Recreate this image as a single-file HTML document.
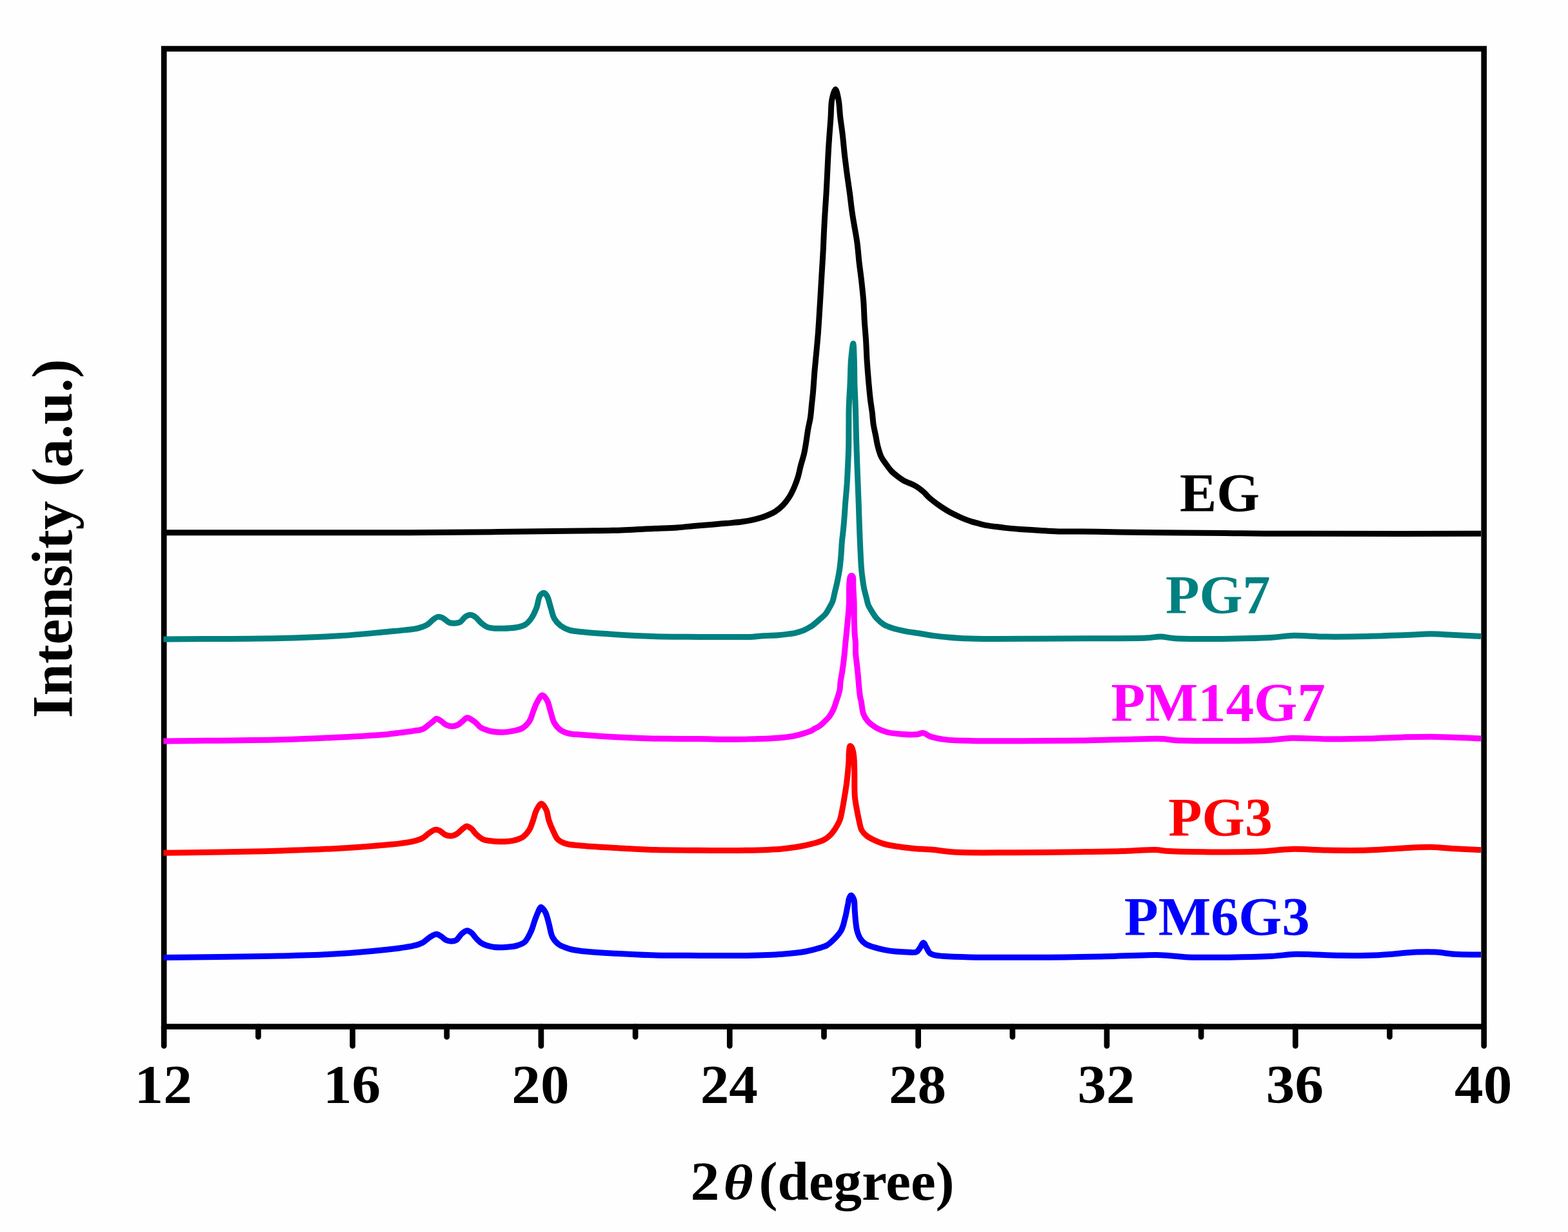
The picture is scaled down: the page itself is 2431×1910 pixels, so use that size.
<!DOCTYPE html>
<html><head><meta charset="utf-8"><style>html,body{margin:0;padding:0;background:#fefefe;overflow:hidden}svg{display:block}</style></head>
<body><svg width="2431" height="1910" viewBox="0 0 2431 1910"><rect x="0" y="0" width="2431" height="1910" fill="#fefefe"/>
<rect x="254.2" y="75.6" width="2046.4999999999998" height="1516.0" fill="none" stroke="#000" stroke-width="8.7"/>
<path d="M253.5,825.8 C335.7,825.8 422.1,825.9 500.0,825.8 C570.1,825.7 633.3,825.8 700.0,825.3 C766.7,824.8 855.6,823.6 900.0,823.0 C922.2,822.7 932.3,822.8 950.0,822.3 C970.0,821.7 995.7,820.3 1014.0,819.5 C1027.7,818.9 1039.1,818.7 1050.0,817.9 C1059.2,817.2 1066.9,816.2 1075.3,815.4 C1083.7,814.7 1092.2,814.1 1100.6,813.4 C1109.0,812.7 1117.5,812.1 1125.9,811.3 C1134.3,810.5 1143.3,810.0 1151.2,808.8 C1158.4,807.7 1165.3,806.4 1171.5,804.8 C1176.9,803.4 1181.6,802.1 1186.6,800.2 C1191.7,798.2 1197.2,796.0 1201.8,793.1 C1206.3,790.3 1210.3,786.8 1214.0,783.0 C1217.8,779.1 1221.2,774.4 1224.1,769.8 C1226.9,765.3 1229.2,760.4 1231.3,755.5 C1233.4,750.6 1235.3,745.8 1236.9,740.4 C1238.7,734.5 1239.9,727.9 1241.5,721.7 C1243.1,715.5 1245.3,709.3 1246.7,703.0 C1248.1,696.8 1249.0,690.5 1250.0,684.3 C1251.0,678.0 1251.7,671.7 1252.8,665.5 C1253.9,659.2 1255.6,653.1 1256.5,646.8 C1257.4,640.6 1257.8,634.3 1258.4,628.1 C1259.1,621.9 1259.7,616.6 1260.4,609.4 C1261.3,599.6 1262.1,585.8 1263.0,574.7 C1263.9,564.5 1264.9,555.2 1265.8,545.4 C1266.7,535.7 1267.6,525.9 1268.4,516.2 C1269.1,506.5 1269.7,496.7 1270.3,487.0 C1270.9,477.2 1271.5,467.5 1272.1,457.7 C1272.7,448.0 1273.2,438.2 1273.8,428.5 C1274.4,418.7 1275.1,407.9 1275.6,399.2 C1276.0,392.1 1276.3,386.6 1276.6,380.0 C1276.9,373.1 1277.1,366.5 1277.5,358.9 C1277.9,350.0 1278.5,339.4 1279.1,329.7 C1279.7,319.9 1280.4,310.2 1281.0,300.4 C1281.6,290.7 1282.0,280.9 1282.5,271.2 C1283.0,261.5 1283.4,251.7 1283.9,242.0 C1284.4,232.2 1285.0,222.5 1285.7,212.7 C1286.4,203.0 1287.2,193.2 1287.9,183.5 C1288.6,173.7 1288.2,162.4 1289.9,154.2 C1291.1,148.1 1293.6,138.5 1295.3,138.5 C1297.0,138.5 1298.9,148.9 1300.1,155.1 C1301.6,162.8 1301.7,172.7 1302.7,181.5 C1303.7,190.3 1305.1,198.5 1306.2,207.9 C1307.5,218.8 1308.5,231.9 1309.8,243.0 C1311.0,253.1 1312.2,262.4 1313.5,272.0 C1314.8,281.4 1316.2,290.5 1317.5,300.0 C1318.8,309.9 1319.9,321.0 1321.3,330.4 C1322.5,338.6 1323.8,345.7 1325.1,353.3 C1326.4,360.9 1327.8,367.9 1328.9,376.1 C1330.2,385.5 1330.9,396.4 1332.0,406.5 C1333.2,416.7 1334.7,426.8 1335.8,437.0 C1336.9,447.1 1338.0,457.3 1338.8,467.4 C1339.5,477.5 1339.7,487.7 1340.3,497.8 C1340.9,508.0 1342.0,518.1 1342.6,528.3 C1343.2,538.4 1343.5,548.5 1344.1,558.7 C1344.8,569.1 1345.6,579.7 1346.5,590.0 C1347.4,600.0 1348.3,610.7 1349.4,619.6 C1350.3,627.0 1351.5,633.4 1352.3,640.0 C1353.0,646.1 1353.2,651.8 1354.1,657.6 C1355.0,663.5 1356.4,669.3 1357.6,675.1 C1358.8,681.0 1359.6,687.0 1361.1,692.7 C1362.6,698.2 1364.1,703.9 1366.4,708.5 C1368.4,712.5 1370.9,715.5 1373.4,719.1 C1376.1,722.9 1378.9,727.1 1382.2,730.5 C1385.4,733.8 1389.1,736.6 1392.7,739.3 C1396.2,741.9 1399.8,744.5 1403.3,746.3 C1406.3,747.9 1409.2,748.5 1412.1,749.8 C1415.0,751.1 1417.8,752.3 1420.8,754.2 C1424.5,756.5 1428.9,760.0 1432.3,763.0 C1435.2,765.6 1437.1,768.4 1440.0,771.0 C1443.3,774.0 1447.3,777.1 1451.0,779.9 C1454.6,782.6 1458.4,785.2 1462.1,787.6 C1465.7,789.9 1469.4,792.2 1473.1,794.2 C1476.8,796.2 1480.5,797.9 1484.2,799.7 C1487.9,801.4 1491.5,803.2 1495.2,804.7 C1498.8,806.2 1502.5,807.4 1506.2,808.6 C1509.9,809.7 1513.6,810.6 1517.3,811.6 C1521.0,812.6 1524.6,813.7 1528.3,814.4 C1532.1,815.2 1535.7,815.5 1540.0,816.1 C1545.4,816.8 1551.9,817.7 1558.4,818.4 C1565.6,819.2 1573.1,819.8 1581.4,820.4 C1591.2,821.1 1603.3,821.8 1613.6,822.4 C1623.2,823.0 1631.3,823.6 1641.2,823.9 C1652.6,824.2 1665.0,824.0 1678.0,824.1 C1692.5,824.2 1709.9,824.5 1724.0,824.7 C1736.1,824.9 1742.5,825.1 1757.6,825.3 C1788.6,825.7 1862.6,826.0 1900.0,826.4 C1924.3,826.7 1931.9,827.1 1960.0,827.3 C2026.5,827.8 2184.0,827.3 2296.0,827.3" fill="none" stroke="#000000" stroke-width="9" stroke-linejoin="round" stroke-linecap="butt"/>
<path d="M253.4,990.9 C313.6,990.4 383.9,990.6 434.0,989.4 C469.8,988.6 497.0,987.6 526.0,985.8 C552.0,984.2 581.3,981.1 600.0,979.4 C611.4,978.4 619.1,977.9 627.6,976.9 C635.0,976.0 642.2,975.5 648.3,973.9 C653.4,972.6 658.1,971.1 662.1,968.7 C665.8,966.5 668.7,962.6 671.8,960.4 C674.2,958.7 676.3,956.8 678.7,956.4 C680.9,956.0 683.2,956.6 685.6,957.6 C689.0,959.0 693.0,963.8 696.6,965.2 C699.4,966.3 702.1,966.3 704.9,966.2 C707.7,966.1 710.6,965.9 713.2,964.5 C716.2,962.9 718.5,958.1 721.4,956.2 C723.8,954.6 726.5,953.2 729.0,953.2 C731.5,953.2 734.1,954.5 736.6,956.2 C739.9,958.3 742.8,963.1 746.3,965.9 C749.7,968.6 752.8,971.3 757.3,972.8 C763.2,974.7 772.2,974.2 779.4,974.2 C786.4,974.2 794.0,973.9 800.1,972.8 C805.2,971.9 810.0,971.1 813.9,968.7 C817.7,966.4 820.7,962.9 823.5,959.0 C826.8,954.4 829.5,948.3 831.8,942.4 C834.2,936.3 834.5,926.9 837.3,923.1 C839.0,920.8 841.7,918.9 843.6,919.2 C845.4,919.5 847.0,922.0 848.4,924.5 C850.7,928.5 852.1,936.6 854.0,942.4 C855.8,948.0 856.7,954.3 859.4,959.0 C861.9,963.3 865.2,967.0 869.1,970.0 C873.1,973.0 877.9,975.3 882.9,976.9 C888.2,978.6 892.7,978.7 900.0,979.5 C913.1,981.0 936.8,982.5 955.2,983.7 C973.6,984.9 990.7,985.9 1010.4,986.5 C1033.2,987.2 1061.1,987.2 1084.0,987.4 C1103.9,987.5 1125.6,987.5 1140.0,987.5 C1149.0,987.5 1154.7,987.8 1162.0,987.5 C1169.4,987.2 1176.8,986.2 1184.2,985.7 C1191.5,985.2 1199.4,985.2 1206.2,984.7 C1212.1,984.2 1217.8,983.6 1222.8,982.9 C1226.9,982.3 1230.2,982.0 1233.8,981.1 C1237.5,980.2 1241.3,979.2 1244.9,977.7 C1248.6,976.2 1253.4,973.4 1255.9,972.0 C1257.2,971.3 1257.6,971.2 1258.9,970.3 C1261.5,968.5 1266.5,964.1 1270.1,960.9 C1273.6,957.8 1277.5,954.8 1280.2,951.5 C1282.6,948.6 1284.0,945.3 1285.8,942.2 C1287.5,939.1 1289.4,936.3 1290.7,932.8 C1292.3,928.7 1293.0,923.4 1294.1,918.7 C1295.2,914.0 1296.4,909.9 1297.5,904.7 C1298.9,898.3 1300.5,890.2 1301.6,883.1 C1302.6,876.2 1303.2,869.6 1303.8,862.5 C1304.5,855.0 1304.7,846.5 1305.4,839.3 C1306.0,832.9 1306.8,827.5 1307.4,821.2 C1308.1,814.3 1308.8,806.4 1309.3,799.3 C1309.8,792.7 1310.1,787.1 1310.6,780.0 C1311.3,771.2 1312.4,760.1 1313.1,750.4 C1313.7,741.0 1314.1,732.0 1314.5,722.8 C1314.9,713.6 1315.4,705.0 1315.6,695.2 C1315.9,684.2 1315.8,671.0 1315.9,660.0 C1316.0,650.3 1315.8,642.4 1316.1,632.5 C1316.4,621.0 1317.4,607.5 1318.0,595.0 C1318.6,582.5 1318.5,568.7 1319.5,557.5 C1320.3,548.3 1322.0,532.5 1322.8,532.5 C1323.6,532.5 1324.0,548.3 1324.3,557.5 C1324.7,568.7 1324.6,582.5 1324.9,595.0 C1325.3,607.5 1326.0,619.2 1326.4,632.5 C1326.9,647.7 1327.1,665.8 1327.6,681.4 C1328.0,695.8 1328.5,707.9 1329.0,722.8 C1329.6,740.3 1330.6,762.8 1331.2,780.0 C1331.7,794.2 1331.9,804.3 1332.5,818.7 C1333.2,836.8 1334.3,866.2 1335.4,880.0 C1335.9,887.0 1336.4,890.5 1337.1,895.8 C1337.8,901.1 1338.5,906.4 1339.5,911.6 C1340.6,916.9 1342.2,922.7 1343.4,927.4 C1344.4,931.3 1344.8,934.6 1346.2,938.0 C1347.7,941.6 1349.9,945.1 1352.1,948.5 C1354.3,952.1 1356.5,955.8 1359.5,959.0 C1362.6,962.4 1366.3,965.8 1370.5,968.3 C1374.9,970.9 1380.0,972.5 1385.2,974.2 C1390.9,976.0 1397.2,977.3 1403.6,978.6 C1410.6,980.0 1418.3,980.8 1425.7,982.0 C1433.0,983.2 1440.3,984.6 1447.7,985.6 C1455.0,986.6 1462.6,987.4 1469.8,988.1 C1476.7,988.7 1483.1,989.2 1490.0,989.6 C1497.3,990.0 1502.5,990.1 1512.5,990.3 C1532.2,990.6 1571.4,990.4 1600.8,990.3 C1630.2,990.2 1659.7,989.9 1689.1,989.7 C1718.5,989.5 1757.8,990.0 1777.4,989.0 C1787.2,988.5 1792.1,986.9 1799.5,987.0 C1806.9,987.1 1810.9,989.1 1821.6,989.7 C1849.1,991.3 1938.3,990.3 1969.7,988.6 C1984.4,987.8 1989.9,985.8 2002.1,985.4 C2017.8,984.9 2037.4,986.9 2056.2,987.1 C2076.8,987.3 2099.4,987.0 2121.0,986.5 C2142.6,986.0 2168.0,985.0 2185.9,984.3 C2198.6,983.8 2207.5,982.8 2218.3,982.8 C2229.1,982.8 2239.0,983.7 2250.7,984.3 C2264.5,985.0 2280.9,985.8 2296.0,986.5" fill="none" stroke="#008080" stroke-width="9" stroke-linejoin="round" stroke-linecap="butt"/>
<path d="M253.4,1149.0 C313.6,1148.2 383.9,1148.0 434.0,1146.7 C469.8,1145.8 497.0,1144.5 526.0,1143.0 C552.0,1141.7 582.9,1140.0 600.0,1138.4 C609.0,1137.6 613.8,1136.8 620.7,1135.9 C627.6,1135.0 635.2,1134.1 641.4,1133.1 C646.5,1132.3 651.2,1132.1 655.2,1130.4 C658.9,1128.8 662.0,1125.7 664.9,1123.5 C667.4,1121.6 669.7,1119.7 671.8,1118.0 C673.5,1116.6 674.7,1114.4 676.6,1114.2 C678.8,1114.0 681.8,1116.5 684.2,1118.0 C686.6,1119.6 688.5,1122.2 691.1,1123.5 C693.9,1124.9 697.6,1125.9 700.7,1126.0 C703.6,1126.1 706.4,1125.4 709.0,1124.2 C711.9,1122.9 714.7,1120.0 717.3,1118.0 C719.7,1116.2 721.7,1113.1 724.2,1112.8 C726.8,1112.5 730.1,1115.2 732.5,1116.6 C734.6,1117.8 736.1,1119.1 738.0,1120.7 C740.2,1122.6 742.0,1125.7 744.9,1127.6 C748.5,1130.0 753.5,1131.8 758.7,1133.1 C764.8,1134.6 772.9,1135.3 779.4,1135.2 C785.2,1135.1 790.7,1134.2 795.9,1133.1 C800.7,1132.1 805.6,1131.4 809.7,1129.0 C814.0,1126.5 818.0,1122.2 820.8,1118.0 C823.5,1113.9 824.5,1108.8 826.3,1104.2 C828.1,1099.6 829.4,1094.8 831.8,1090.4 C834.2,1085.9 837.8,1078.0 840.8,1077.8 C843.3,1077.7 846.4,1082.6 848.4,1086.2 C851.0,1090.9 852.0,1098.3 853.9,1104.2 C855.7,1109.8 856.7,1116.0 859.4,1120.7 C861.9,1125.1 865.2,1129.0 869.1,1131.8 C873.0,1134.6 878.0,1136.1 882.9,1137.3 C888.2,1138.6 892.7,1138.4 900.0,1139.0 C913.2,1140.1 936.8,1141.8 955.2,1142.8 C973.6,1143.8 990.7,1144.5 1010.4,1145.0 C1033.2,1145.5 1061.1,1145.4 1084.0,1145.6 C1103.9,1145.8 1124.6,1146.3 1140.0,1146.2 C1150.8,1146.2 1158.4,1145.9 1167.6,1145.7 C1176.8,1145.4 1186.5,1145.2 1195.2,1144.7 C1203.0,1144.3 1210.5,1143.8 1217.3,1143.0 C1223.2,1142.3 1228.9,1141.5 1233.8,1140.4 C1237.9,1139.5 1241.0,1138.6 1244.9,1137.4 C1249.3,1136.0 1255.7,1134.0 1258.7,1132.5 C1260.3,1131.7 1260.7,1131.0 1262.1,1130.1 C1264.2,1128.8 1267.5,1127.7 1270.1,1125.9 C1272.9,1124.0 1275.4,1121.5 1278.0,1119.0 C1280.7,1116.4 1283.7,1113.5 1285.9,1110.6 C1288.0,1107.9 1289.6,1105.1 1291.1,1102.1 C1292.6,1099.1 1293.9,1095.2 1294.8,1092.7 C1295.4,1091.0 1295.6,1090.0 1296.1,1088.4 C1296.8,1086.2 1297.9,1083.6 1298.8,1080.7 C1299.9,1077.2 1301.3,1072.9 1302.0,1069.0 C1302.7,1065.1 1302.5,1061.4 1303.0,1057.3 C1303.6,1052.7 1304.7,1047.6 1305.5,1042.7 C1306.3,1037.8 1307.0,1033.0 1307.6,1028.1 C1308.2,1023.2 1308.8,1018.5 1309.3,1013.4 C1309.9,1007.8 1310.2,1002.8 1310.9,995.9 C1311.8,986.1 1313.5,971.3 1314.5,960.4 C1315.3,951.1 1316.1,943.2 1316.4,934.6 C1316.7,926.0 1316.2,916.3 1316.6,908.9 C1316.9,903.3 1317.0,896.3 1318.3,894.0 C1318.8,893.1 1319.6,892.5 1320.3,892.5 C1320.9,892.5 1321.7,893.1 1322.2,894.0 C1323.4,896.3 1322.5,903.3 1322.8,908.9 C1323.1,916.3 1323.8,926.0 1324.1,934.6 C1324.4,943.2 1324.1,951.8 1324.3,960.4 C1324.5,969.0 1324.9,979.7 1325.4,986.2 C1325.7,990.2 1326.2,992.2 1326.4,995.9 C1326.7,1000.9 1326.2,1007.6 1326.6,1013.4 C1327.0,1019.3 1328.0,1025.1 1328.6,1031.0 C1329.2,1036.8 1329.9,1042.7 1330.4,1048.5 C1331.0,1054.4 1331.3,1060.5 1331.9,1066.1 C1332.4,1071.2 1332.9,1076.6 1333.6,1080.7 C1334.1,1083.7 1334.8,1085.3 1335.4,1088.4 C1336.4,1093.2 1336.6,1101.3 1338.5,1106.5 C1340.1,1111.0 1342.3,1114.6 1345.4,1118.1 C1348.9,1122.1 1354.2,1125.8 1359.1,1128.6 C1364.0,1131.4 1369.2,1133.4 1374.9,1135.0 C1381.3,1136.7 1388.6,1137.5 1396.0,1138.1 C1404.0,1138.8 1414.6,1139.2 1421.2,1138.6 C1425.5,1138.2 1428.3,1136.0 1431.7,1136.4 C1435.3,1136.9 1438.0,1140.2 1442.3,1141.7 C1448.1,1143.7 1455.2,1145.3 1463.5,1146.4 C1475.1,1148.0 1488.5,1148.1 1505.8,1148.5 C1533.1,1149.2 1580.8,1148.6 1611.6,1148.5 C1635.5,1148.4 1653.9,1148.4 1675.1,1148.1 C1696.3,1147.8 1717.4,1146.8 1738.6,1146.4 C1759.7,1146.0 1786.5,1144.8 1802.0,1145.5 C1811.0,1145.9 1812.9,1147.2 1823.2,1147.7 C1850.1,1149.0 1938.5,1148.7 1969.7,1147.2 C1984.4,1146.5 1989.9,1144.6 2002.1,1144.2 C2017.8,1143.7 2037.4,1145.5 2056.2,1145.7 C2076.8,1145.9 2100.4,1145.5 2121.0,1145.0 C2139.8,1144.5 2157.1,1143.3 2175.1,1142.9 C2193.1,1142.5 2210.1,1142.1 2229.1,1142.4 C2250.2,1142.7 2273.7,1144.1 2296.0,1145.0" fill="none" stroke="#FF00FF" stroke-width="9" stroke-linejoin="round" stroke-linecap="butt"/>
<path d="M253.4,1322.2 C282.9,1321.8 312.2,1321.6 342.0,1321.1 C372.4,1320.5 403.3,1319.9 434.0,1318.9 C464.7,1317.9 497.1,1316.9 526.0,1315.2 C551.9,1313.7 582.5,1311.2 599.6,1309.7 C608.8,1308.9 613.7,1308.5 620.7,1307.6 C627.6,1306.7 635.3,1305.8 641.4,1304.2 C646.5,1302.9 651.2,1301.5 655.2,1299.3 C658.9,1297.3 661.6,1294.0 664.9,1291.8 C668.0,1289.7 671.5,1286.9 674.5,1286.4 C676.9,1286.0 679.1,1286.6 681.4,1287.6 C684.2,1288.8 686.7,1292.4 689.7,1293.8 C692.7,1295.2 696.2,1296.1 699.4,1295.9 C702.6,1295.7 706.1,1294.2 709.0,1292.4 C712.1,1290.6 714.7,1286.9 717.3,1284.9 C719.4,1283.3 721.3,1281.0 723.5,1280.9 C725.9,1280.8 728.8,1283.0 731.1,1284.9 C733.7,1287.0 735.3,1290.5 738.0,1293.1 C741.1,1296.0 744.7,1299.5 749.0,1301.4 C753.8,1303.4 759.7,1303.7 765.6,1304.2 C772.1,1304.8 780.1,1305.0 786.3,1304.5 C791.4,1304.1 795.8,1303.4 800.1,1302.1 C804.1,1300.9 807.8,1299.7 811.1,1297.3 C814.8,1294.6 818.3,1290.3 820.8,1286.2 C823.3,1282.0 824.5,1277.2 826.3,1272.4 C828.2,1267.2 829.3,1260.5 831.8,1255.9 C833.9,1252.0 836.9,1246.0 839.4,1246.0 C841.9,1246.0 845.1,1251.9 847.0,1255.9 C849.2,1260.5 849.3,1267.0 851.1,1272.4 C852.9,1278.0 855.5,1283.9 858.0,1289.0 C860.2,1293.5 861.8,1298.3 864.9,1301.4 C867.9,1304.4 871.4,1306.1 876.0,1307.6 C882.3,1309.7 890.3,1310.0 900.0,1311.0 C914.6,1312.5 936.8,1313.5 955.2,1314.6 C973.6,1315.7 990.7,1316.8 1010.4,1317.4 C1033.2,1318.1 1059.5,1318.2 1084.0,1318.3 C1108.5,1318.4 1134.8,1318.8 1157.6,1318.3 C1177.3,1317.9 1196.3,1317.5 1212.8,1315.9 C1226.3,1314.6 1238.3,1312.9 1249.6,1310.4 C1259.5,1308.2 1270.7,1305.3 1277.2,1302.1 C1281.3,1300.1 1283.5,1298.2 1286.3,1295.5 C1289.4,1292.6 1292.2,1288.8 1294.8,1284.9 C1297.5,1280.7 1300.3,1276.1 1302.1,1271.2 C1304.0,1266.2 1304.6,1261.1 1305.8,1255.4 C1307.1,1248.9 1308.3,1241.3 1309.5,1234.3 C1310.6,1227.3 1311.7,1221.0 1312.7,1213.3 C1313.9,1203.8 1315.2,1190.3 1315.8,1181.6 C1316.2,1175.5 1315.8,1170.5 1316.3,1166.0 C1316.7,1162.4 1316.9,1156.9 1318.0,1156.5 C1318.6,1156.3 1319.8,1157.5 1320.5,1158.5 C1321.5,1160.0 1322.1,1162.6 1322.6,1165.0 C1323.2,1167.7 1323.6,1170.8 1323.9,1174.0 C1324.2,1177.5 1324.4,1180.9 1324.5,1185.0 C1324.7,1190.2 1324.7,1196.0 1324.8,1202.7 C1324.9,1211.7 1324.5,1224.9 1325.3,1234.3 C1325.9,1242.1 1327.3,1248.9 1328.5,1255.4 C1329.5,1261.1 1330.5,1266.0 1331.7,1271.2 C1332.9,1276.5 1333.6,1282.7 1335.9,1287.0 C1337.8,1290.5 1340.4,1293.1 1343.3,1295.5 C1346.3,1298.0 1349.9,1299.8 1353.8,1301.8 C1358.4,1304.1 1363.9,1306.4 1369.6,1308.1 C1376.0,1310.0 1383.3,1311.1 1390.7,1312.3 C1399.0,1313.6 1408.3,1314.7 1417.0,1315.5 C1425.5,1316.3 1432.8,1316.3 1442.3,1317.1 C1454.6,1318.1 1468.1,1320.4 1484.6,1321.3 C1508.0,1322.5 1539.5,1321.8 1569.3,1321.7 C1602.6,1321.6 1644.3,1321.1 1675.1,1320.7 C1699.0,1320.4 1718.4,1320.2 1738.6,1319.6 C1757.0,1319.1 1777.9,1317.1 1791.5,1317.5 C1800.1,1317.8 1802.5,1319.1 1812.6,1319.6 C1838.1,1320.9 1913.2,1321.5 1948.1,1320.3 C1970.2,1319.6 1984.1,1316.8 2002.1,1316.4 C2020.1,1316.0 2037.4,1317.8 2056.2,1318.1 C2076.8,1318.4 2100.4,1318.7 2121.0,1318.1 C2139.9,1317.5 2158.1,1315.7 2175.1,1314.9 C2190.3,1314.2 2204.9,1313.1 2218.3,1313.3 C2229.9,1313.5 2239.0,1314.8 2250.7,1315.5 C2264.5,1316.3 2280.9,1317.0 2296.0,1317.7" fill="none" stroke="#FF0000" stroke-width="9" stroke-linejoin="round" stroke-linecap="butt"/>
<path d="M253.4,1484.5 C282.9,1484.2 312.2,1484.0 342.0,1483.6 C372.4,1483.2 403.3,1482.8 434.0,1482.0 C464.7,1481.2 497.1,1480.4 526.0,1478.6 C551.9,1477.0 582.5,1474.0 599.6,1472.2 C608.8,1471.3 613.7,1470.7 620.7,1469.7 C627.6,1468.7 635.3,1467.8 641.4,1466.2 C646.5,1464.9 651.0,1463.6 655.2,1461.4 C659.3,1459.2 662.5,1455.4 666.2,1453.1 C669.6,1451.0 673.4,1448.2 676.6,1448.2 C679.3,1448.2 681.8,1450.3 684.2,1451.8 C686.6,1453.3 688.5,1456.0 691.1,1457.3 C693.6,1458.5 696.6,1459.3 699.4,1459.3 C702.1,1459.3 705.1,1458.8 707.6,1457.3 C710.7,1455.4 712.9,1450.1 715.9,1447.6 C718.5,1445.4 721.5,1442.8 724.2,1442.7 C726.6,1442.6 729.0,1444.5 731.1,1446.2 C733.6,1448.2 735.4,1451.8 738.0,1454.5 C740.8,1457.4 743.6,1460.6 747.6,1462.8 C752.4,1465.5 759.3,1467.4 765.6,1468.3 C772.2,1469.3 779.8,1468.8 786.3,1468.3 C792.1,1467.8 797.9,1467.2 802.8,1465.6 C807.0,1464.2 810.7,1463.0 813.9,1460.0 C817.9,1456.3 820.9,1449.1 823.5,1443.5 C826.0,1438.1 827.2,1432.2 829.1,1426.9 C830.9,1422.1 832.8,1416.9 834.6,1413.1 C836.0,1410.3 837.0,1406.3 838.7,1406.2 C840.6,1406.0 843.7,1411.0 845.6,1414.5 C848.1,1419.1 849.3,1426.2 851.1,1432.4 C853.0,1439.0 853.7,1447.5 856.7,1453.1 C859.2,1457.7 862.2,1461.3 866.3,1464.2 C870.8,1467.4 877.2,1469.4 882.9,1471.1 C888.5,1472.7 892.6,1473.3 900.0,1474.2 C913.1,1475.9 936.8,1477.2 955.2,1478.3 C973.6,1479.4 990.7,1480.3 1010.4,1480.8 C1033.2,1481.4 1059.5,1481.3 1084.0,1481.4 C1108.5,1481.5 1134.8,1481.9 1157.6,1481.4 C1177.3,1481.0 1196.3,1480.5 1212.8,1479.2 C1226.3,1478.2 1238.3,1477.1 1249.6,1475.0 C1259.5,1473.1 1271.8,1469.5 1277.2,1467.6 C1279.5,1466.8 1280.4,1466.5 1282.1,1465.5 C1284.5,1464.1 1287.4,1461.6 1289.9,1459.3 C1292.6,1456.8 1295.4,1453.9 1297.8,1451.1 C1300.1,1448.4 1302.4,1445.7 1304.0,1442.8 C1305.5,1440.1 1306.4,1437.3 1307.3,1434.5 C1308.2,1431.8 1308.7,1429.0 1309.4,1426.2 C1310.1,1423.4 1310.9,1420.7 1311.5,1417.9 C1312.1,1415.2 1312.6,1412.4 1313.1,1409.7 C1313.7,1406.9 1314.2,1404.2 1314.8,1401.4 C1315.3,1398.6 1315.5,1395.5 1316.4,1393.1 C1317.1,1391.1 1318.2,1388.0 1319.3,1388.0 C1320.6,1387.9 1322.9,1391.9 1323.9,1394.8 C1325.3,1398.7 1324.7,1404.6 1325.1,1409.7 C1325.5,1415.1 1325.8,1420.7 1326.4,1426.2 C1327.0,1431.7 1327.4,1437.7 1328.8,1442.8 C1330.0,1447.3 1331.5,1451.7 1333.8,1455.2 C1336.0,1458.5 1338.8,1461.3 1342.1,1463.5 C1345.6,1465.8 1350.0,1467.0 1354.5,1468.4 C1359.6,1470.0 1365.5,1471.5 1371.1,1472.6 C1376.6,1473.7 1382.1,1474.6 1387.6,1475.1 C1393.1,1475.6 1398.7,1475.8 1404.2,1475.9 C1409.7,1476.0 1416.8,1477.6 1420.7,1475.9 C1423.5,1474.6 1424.7,1471.7 1426.5,1469.3 C1428.3,1466.9 1429.8,1461.5 1431.5,1461.5 C1433.2,1461.5 1434.9,1466.7 1436.5,1469.3 C1438.2,1472.0 1439.1,1475.6 1441.4,1477.5 C1443.6,1479.4 1446.6,1480.1 1449.7,1480.9 C1453.2,1481.8 1456.1,1481.9 1461.2,1482.3 C1470.9,1483.1 1485.1,1483.6 1503.5,1483.9 C1537.9,1484.6 1612.5,1484.2 1651.6,1483.9 C1677.2,1483.7 1692.4,1483.3 1715.1,1482.8 C1741.3,1482.2 1776.4,1480.1 1799.7,1480.7 C1816.2,1481.1 1824.1,1483.3 1842.0,1483.9 C1873.0,1484.9 1938.7,1484.0 1969.0,1482.6 C1986.0,1481.8 1993.6,1479.7 2008.6,1479.3 C2028.5,1478.8 2055.6,1481.1 2077.8,1481.3 C2098.3,1481.5 2117.3,1481.6 2137.1,1480.7 C2156.9,1479.8 2180.1,1476.7 2196.5,1476.1 C2208.1,1475.7 2216.2,1475.6 2226.1,1476.1 C2236.0,1476.6 2245.1,1478.6 2255.8,1479.3 C2268.2,1480.1 2282.6,1479.8 2296.0,1480.1" fill="none" stroke="#0000FF" stroke-width="9" stroke-linejoin="round" stroke-linecap="butt"/>
<line x1="254.2" y1="1591.6" x2="254.2" y2="1621.5" stroke="#000" stroke-width="8.7" stroke-linecap="round"/>
<line x1="400.4" y1="1591.6" x2="400.4" y2="1607.4" stroke="#000" stroke-width="8.7" stroke-linecap="round"/>
<line x1="546.6" y1="1591.6" x2="546.6" y2="1621.5" stroke="#000" stroke-width="8.7" stroke-linecap="round"/>
<line x1="692.7" y1="1591.6" x2="692.7" y2="1607.4" stroke="#000" stroke-width="8.7" stroke-linecap="round"/>
<line x1="838.9" y1="1591.6" x2="838.9" y2="1621.5" stroke="#000" stroke-width="8.7" stroke-linecap="round"/>
<line x1="985.1" y1="1591.6" x2="985.1" y2="1607.4" stroke="#000" stroke-width="8.7" stroke-linecap="round"/>
<line x1="1131.3" y1="1591.6" x2="1131.3" y2="1621.5" stroke="#000" stroke-width="8.7" stroke-linecap="round"/>
<line x1="1277.5" y1="1591.6" x2="1277.5" y2="1607.4" stroke="#000" stroke-width="8.7" stroke-linecap="round"/>
<line x1="1423.6" y1="1591.6" x2="1423.6" y2="1621.5" stroke="#000" stroke-width="8.7" stroke-linecap="round"/>
<line x1="1569.8" y1="1591.6" x2="1569.8" y2="1607.4" stroke="#000" stroke-width="8.7" stroke-linecap="round"/>
<line x1="1716.0" y1="1591.6" x2="1716.0" y2="1621.5" stroke="#000" stroke-width="8.7" stroke-linecap="round"/>
<line x1="1862.2" y1="1591.6" x2="1862.2" y2="1607.4" stroke="#000" stroke-width="8.7" stroke-linecap="round"/>
<line x1="2008.4" y1="1591.6" x2="2008.4" y2="1621.5" stroke="#000" stroke-width="8.7" stroke-linecap="round"/>
<line x1="2154.5" y1="1591.6" x2="2154.5" y2="1607.4" stroke="#000" stroke-width="8.7" stroke-linecap="round"/>
<line x1="2300.7" y1="1591.6" x2="2300.7" y2="1621.5" stroke="#000" stroke-width="8.7" stroke-linecap="round"/>
<text transform="translate(253.2,1710.2) scale(1.05,1)" font-size="85" font-family="Liberation Serif, serif" font-weight="bold" text-anchor="middle">12</text>
<text transform="translate(545.6,1710.2) scale(1.05,1)" font-size="85" font-family="Liberation Serif, serif" font-weight="bold" text-anchor="middle">16</text>
<text transform="translate(837.9,1710.2) scale(1.05,1)" font-size="85" font-family="Liberation Serif, serif" font-weight="bold" text-anchor="middle">20</text>
<text transform="translate(1130.3,1710.2) scale(1.05,1)" font-size="85" font-family="Liberation Serif, serif" font-weight="bold" text-anchor="middle">24</text>
<text transform="translate(1422.6,1710.2) scale(1.05,1)" font-size="85" font-family="Liberation Serif, serif" font-weight="bold" text-anchor="middle">28</text>
<text transform="translate(1715.0,1710.2) scale(1.05,1)" font-size="85" font-family="Liberation Serif, serif" font-weight="bold" text-anchor="middle">32</text>
<text transform="translate(2007.4,1710.2) scale(1.05,1)" font-size="85" font-family="Liberation Serif, serif" font-weight="bold" text-anchor="middle">36</text>
<text transform="translate(2299.7,1710.2) scale(1.05,1)" font-size="85" font-family="Liberation Serif, serif" font-weight="bold" text-anchor="middle">40</text>
<text transform="translate(1891.1,792.9) scale(1.01,1)" font-size="85" font-family="Liberation Serif, serif" font-weight="bold" fill="#000000" text-anchor="middle">EG</text>
<text transform="translate(1888.2,951.1) scale(1.013,1)" font-size="85" font-family="Liberation Serif, serif" font-weight="bold" fill="#008080" text-anchor="middle">PG7</text>
<text transform="translate(1888.7,1117.8) scale(1.02,1)" font-size="85" font-family="Liberation Serif, serif" font-weight="bold" fill="#FF00FF" text-anchor="middle">PM14G7</text>
<text transform="translate(1891.9,1295.5) scale(1.006,1)" font-size="85" font-family="Liberation Serif, serif" font-weight="bold" fill="#FF0000" text-anchor="middle">PG3</text>
<text transform="translate(1886.8,1449.5) scale(1.016,1)" font-size="85" font-family="Liberation Serif, serif" font-weight="bold" fill="#0000FF" text-anchor="middle">PM6G3</text>
<text transform="translate(1070.5,1859.6) scale(1.06,1)" x="0" y="0" font-size="85" font-family="Liberation Serif, serif" font-weight="bold">2</text>
<text transform="translate(1121.6,1859) scale(1.154,1)" x="0" y="0" font-size="77" font-family="Liberation Serif, serif" font-weight="bold" font-style="italic">θ</text>
<text transform="translate(1176.5,1859.6) scale(1.025,1)" x="0" y="0" font-size="85" font-family="Liberation Serif, serif" font-weight="bold">(degree)</text>
<text transform="translate(110.5,834.9) rotate(-90) scale(1.012,1)" x="0" y="0" font-size="88" font-family="Liberation Serif, serif" font-weight="bold" text-anchor="middle">Intensity (a.u.)</text></svg></body></html>
